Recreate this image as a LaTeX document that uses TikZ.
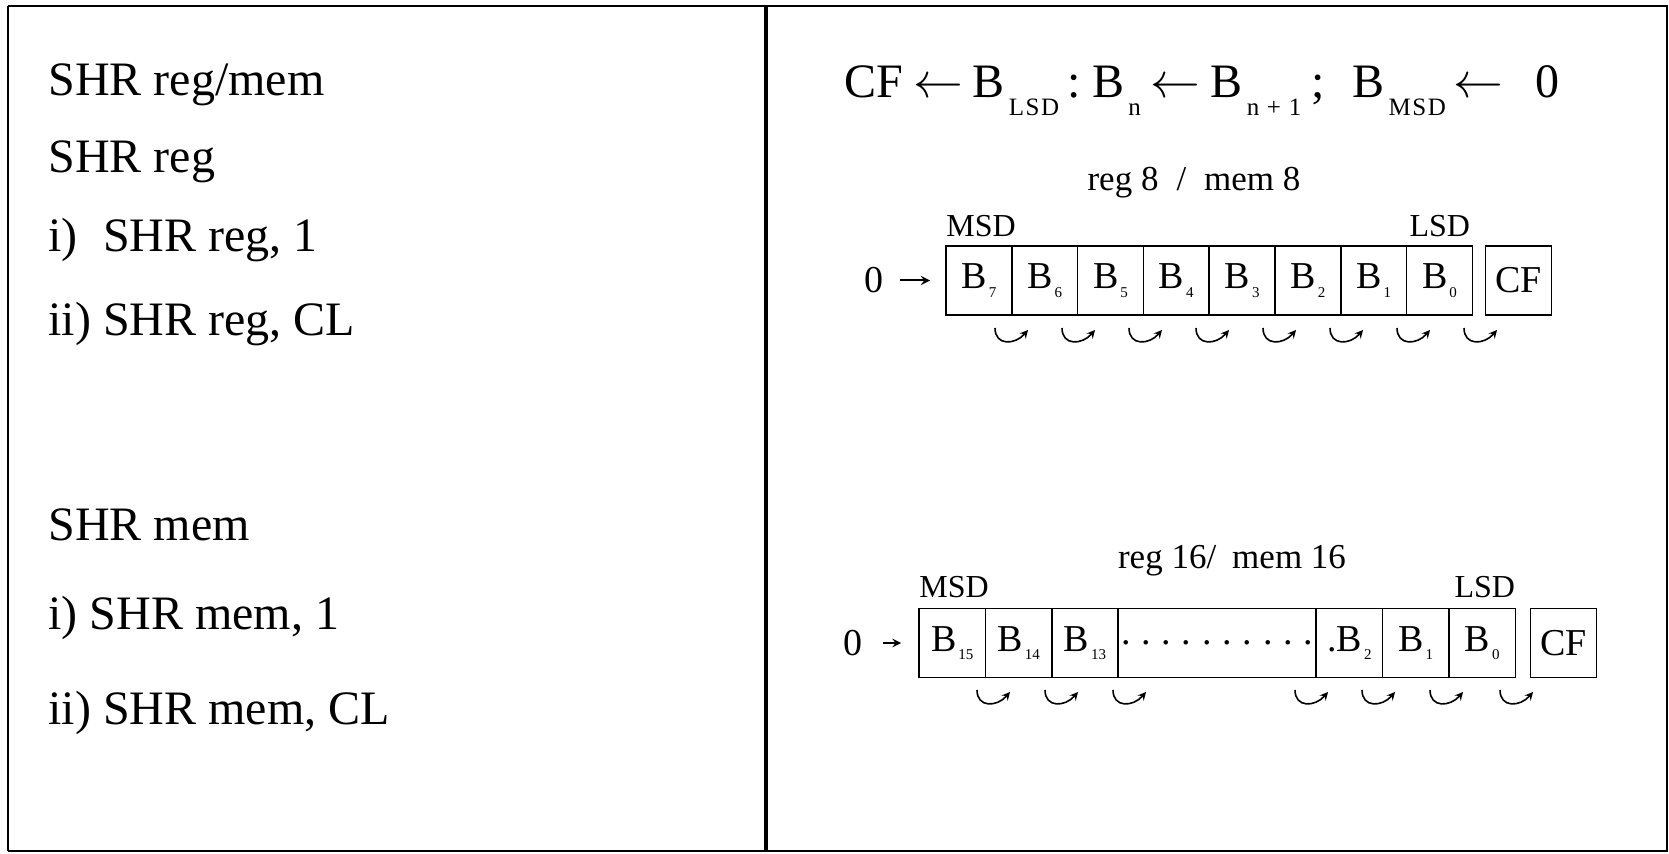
\documentclass[tikz,border=0pt]{standalone}
\usepackage{fontspec}
\setmainfont{Liberation Serif}
\usetikzlibrary{positioning,calc}

\tikzset{
  bitbox/.style={draw, line width=0.8pt, outer sep=0pt, inner sep=0pt,
    minimum width=33.2pt, minimum height=34.3pt, font=\fontsize{19}{19}\selectfont},
  hook/.style={->, >=stealth, line width=0.8pt},
  listtext/.style={anchor=base west, inner sep=0pt, font=\fontsize{24}{24}\selectfont},
  headtext/.style={inner sep=0pt, font=\fontsize{17.5}{17.5}\selectfont},
  endtext/.style={inner sep=0pt, font=\fontsize{16}{16}\selectfont},
  intext/.style={inner sep=0pt, font=\fontsize{19}{19}\selectfont}
}
\newcommand{\bitB}[1]{B\kern1pt\raisebox{-0.5ex}{\fontsize{7.5}{7.5}\selectfont #1}}
\newcommand{\fsub}[1]{\kern2pt\raisebox{-0.8ex}{\fontsize{12.5}{12.5}\addfontfeatures{LetterSpace=6}\selectfont #1}}

\begin{document}
\begin{tikzpicture}[x=0.5pt,y=0.5pt]
\useasboundingbox (0,0) rectangle (1669,-854);

% Rahmen
\draw[line width=1pt] (8,-6) -- (1667,-6) -- (1667,-851) -- (8,-851);
\draw[line width=1.4pt] (8,-6) -- (8,-851);
\draw[line width=2pt] (766,-6) -- (766,-851);

% Linke Spalte
\node[listtext] (l1) at (48,-96) {SHR reg/mem};
\node[listtext] (l2) at (48,-173) {SHR reg};
\node[listtext] (l3) at (48,-252) {i)\phantom{i} SHR reg, 1};
\node[listtext] (l4) at (48,-336) {ii) SHR reg, CL};
\node[listtext] (l5) at (48,-541) {SHR mem};
\node[listtext] (l6) at (48,-630) {i) SHR mem, 1};
\node[listtext] (l7) at (48,-724) {ii) SHR mem, CL};

% Formel
\node[listtext] (rule) at (844,-98)
  {CF\hspace{5pt}$\leftarrow$\hspace{5pt}B\fsub{LSD}\hspace{4pt}:\hspace{6pt}B\fsub{n}\hspace{5pt}$\leftarrow$\hspace{5pt}B\fsub{n + 1}\hspace{5pt};\hspace{14pt}B\fsub{MSD}\hspace{4pt}$\leftarrow$\hspace{16pt}0};

% 8-Bit Register
\node[headtext] (head8) at (1194,-183) {reg 8\hspace{9pt}/\hspace{9pt}mem 8};
\node[bitbox, anchor=west, minimum width=32.9pt] (b7) at (946,-280.5) {\bitB{7}};
\foreach \b/\p in {6/7,5/6,4/5,3/4,2/3,1/2,0/1}
  \node[bitbox, minimum width=32.9pt, right=0pt of b\p] (b\b) {\bitB{\b}};
\node[bitbox, minimum width=33pt, right=6.5pt of b0] (cf8) {CF};
\node[endtext, anchor=base west] (msd8) at ($(b7.north west)+(0,10)$) {MSD};
\node[endtext, anchor=base east] (lsd8) at ($(b0.north east)+(-2,10)$) {LSD};
\node[intext] (in8) at (874,-280.5) {0};
\draw[->, >=stealth, line width=1pt, shorten <=8pt, shorten >=8pt] (in8) -- (b7);
\foreach \x in {995,1062,...,1465}
  \draw[hook] (\x,-328) .. controls (\x,-346) and (\x+20,-345) .. (\x+33,-330);

% 16-Bit Register
\node[headtext] (head16) at (1232,-561) {reg 16/\hspace{8pt}mem 16};
\node[bitbox, anchor=west] (c15) at (919,-643) {\bitB{15}};
\node[bitbox, right=0pt of c15] (c14) {\bitB{14}};
\node[bitbox, right=0pt of c14] (c13) {\bitB{13}};
\node[bitbox, minimum width=99pt, right=0pt of c13] (dots)
  {.\foreach \k in {1,...,9}{\hspace{5.4pt}.}};
\node[bitbox, right=0pt of dots] (c2) {.\bitB{2}};
\node[bitbox, right=0pt of c2] (c1) {\bitB{1}};
\node[bitbox, right=0pt of c1] (c0) {\bitB{0}};
\node[bitbox, minimum width=33pt, right=7.5pt of c0] (cf16) {CF};
\node[endtext, anchor=base west] (msd16) at ($(c15.north west)+(0,11)$) {MSD};
\node[endtext, anchor=base east] (lsd16) at ($(c0.north east)+(0,11)$) {LSD};
\node[intext] (in16) at (853,-643) {0};
\draw[->, >=stealth, line width=0.9pt, shorten <=10pt, shorten >=9pt] (in16) -- (c15);
\foreach \x in {977,1045,1113,1295,1362,1430,1500}
  \draw[hook] (\x,-690) .. controls (\x,-708) and (\x+20,-707) .. (\x+33,-692);

\end{tikzpicture}
\end{document}
